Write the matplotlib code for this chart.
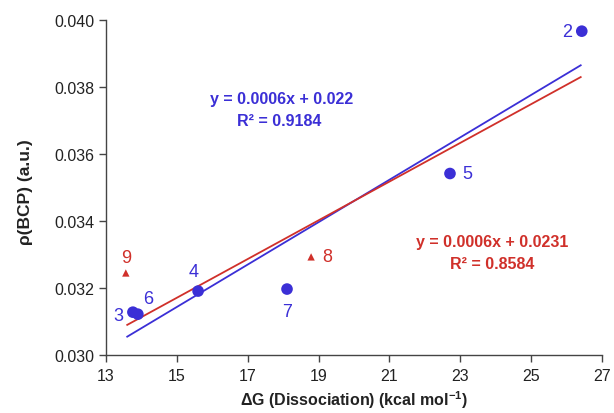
import matplotlib
matplotlib.use("Agg")
import matplotlib.pyplot as plt
import numpy as np

plt.rcParams['font.family'] = ['Liberation Sans', 'DejaVu Sans']
plt.rcParams['mathtext.fontset'] = 'custom'
plt.rcParams['mathtext.rm'] = 'Liberation Sans:bold'
plt.rcParams['mathtext.bf'] = 'Liberation Sans:bold'
plt.rcParams['mathtext.default'] = 'rm'

# Blue circles (labels 2-7)
blue_labels = ["2", "3", "4", "5", "6", "7"]
blue_x = [26.43, 13.76, 15.6, 22.71, 13.9, 18.11]
blue_y = [0.03967, 0.03128, 0.03191, 0.03542, 0.03122, 0.03197]
# Red triangles (labels 8, 9)
red_labels = ["8", "9"]
red_x = [18.79, 13.56]
red_y = [0.03293, 0.03245]

# Trend lines (slope, intercept) as drawn
blue_fit = (0.000633, 0.02194)
red_fit = (0.000578, 0.02304)
fit_range = (13.6, 26.4)

BLUE = "#3b2fd6"
RED = "#d0302a"

fig = plt.figure(figsize=(6.14, 4.14), dpi=100)
ax = fig.add_axes([0.1726, 0.140, 0.8078, 0.809])

xs = np.array(fit_range)
ax.plot(xs, blue_fit[0] * xs + blue_fit[1], color=BLUE, lw=1.3, zorder=2)
ax.plot(xs, red_fit[0] * xs + red_fit[1], color=RED, lw=1.3, zorder=2)

ax.scatter(blue_x, blue_y, s=70, color=BLUE, zorder=3, edgecolors='none')
ax.scatter(red_x, red_y, s=28, marker='^', color=RED, zorder=3, edgecolors='none')

blue_off = {"2": (-15, 0), "3": (-15, -3), "4": (-4, 20), "5": (17, 0), "6": (10, 16), "7": (0, -22)}
red_off = {"8": (16, 0), "9": (0, 15)}
for lab, x, y in zip(blue_labels, blue_x, blue_y):
    ax.annotate(lab, (x, y), xytext=blue_off[lab], textcoords='offset pixels',
                ha='center', va='center', color=BLUE, fontsize=13)
for lab, x, y in zip(red_labels, red_x, red_y):
    ax.annotate(lab, (x, y), xytext=red_off[lab], textcoords='offset pixels',
                ha='center', va='center', color=RED, fontsize=13)

eq_fs = 11.5
ax.text(0.355, 0.767, "y = 0.0006x + 0.022", transform=ax.transAxes, ha='center', va='center',
        color=BLUE, fontsize=eq_fs, fontweight='bold')
ax.text(0.349, 0.701, "R² = 0.9184", transform=ax.transAxes, ha='center', va='center',
        color=BLUE, fontsize=eq_fs, fontweight='bold')
ax.text(0.778, 0.340, "y = 0.0006x + 0.0231", transform=ax.transAxes, ha='center', va='center',
        color=RED, fontsize=eq_fs, fontweight='bold')
ax.text(0.778, 0.274, "R² = 0.8584", transform=ax.transAxes, ha='center', va='center',
        color=RED, fontsize=eq_fs, fontweight='bold')

ax.set_xlim(13, 27)
ax.set_ylim(0.030, 0.040)
ax.set_xticks([13, 15, 17, 19, 21, 23, 25, 27])
ax.set_yticks([0.030, 0.032, 0.034, 0.036, 0.038, 0.040])
ax.set_yticklabels(["0.030", "0.032", "0.034", "0.036", "0.038", "0.040"])
for s in ['top', 'right']:
    ax.spines[s].set_visible(False)
for s in ['left', 'bottom']:
    ax.spines[s].set_color('#444444')
    ax.spines[s].set_linewidth(1.0)
ax.tick_params(direction='out', length=5, width=1, color='#444444', labelsize=11.5,
               labelcolor='#222222')
ax.tick_params(axis='x', pad=4)

ax.set_xlabel("ΔG (Dissociation) (kcal mol$^{-1}$)", fontsize=11.5, fontweight='bold',
              color='#222222', labelpad=4)
ax.set_ylabel("ρ(BCP) (a.u.)", fontsize=12.5, fontweight='bold', color='#222222', labelpad=7)
ax.yaxis.set_label_coords(-0.147, 0.49)

fig.savefig("out.png", dpi=100)
